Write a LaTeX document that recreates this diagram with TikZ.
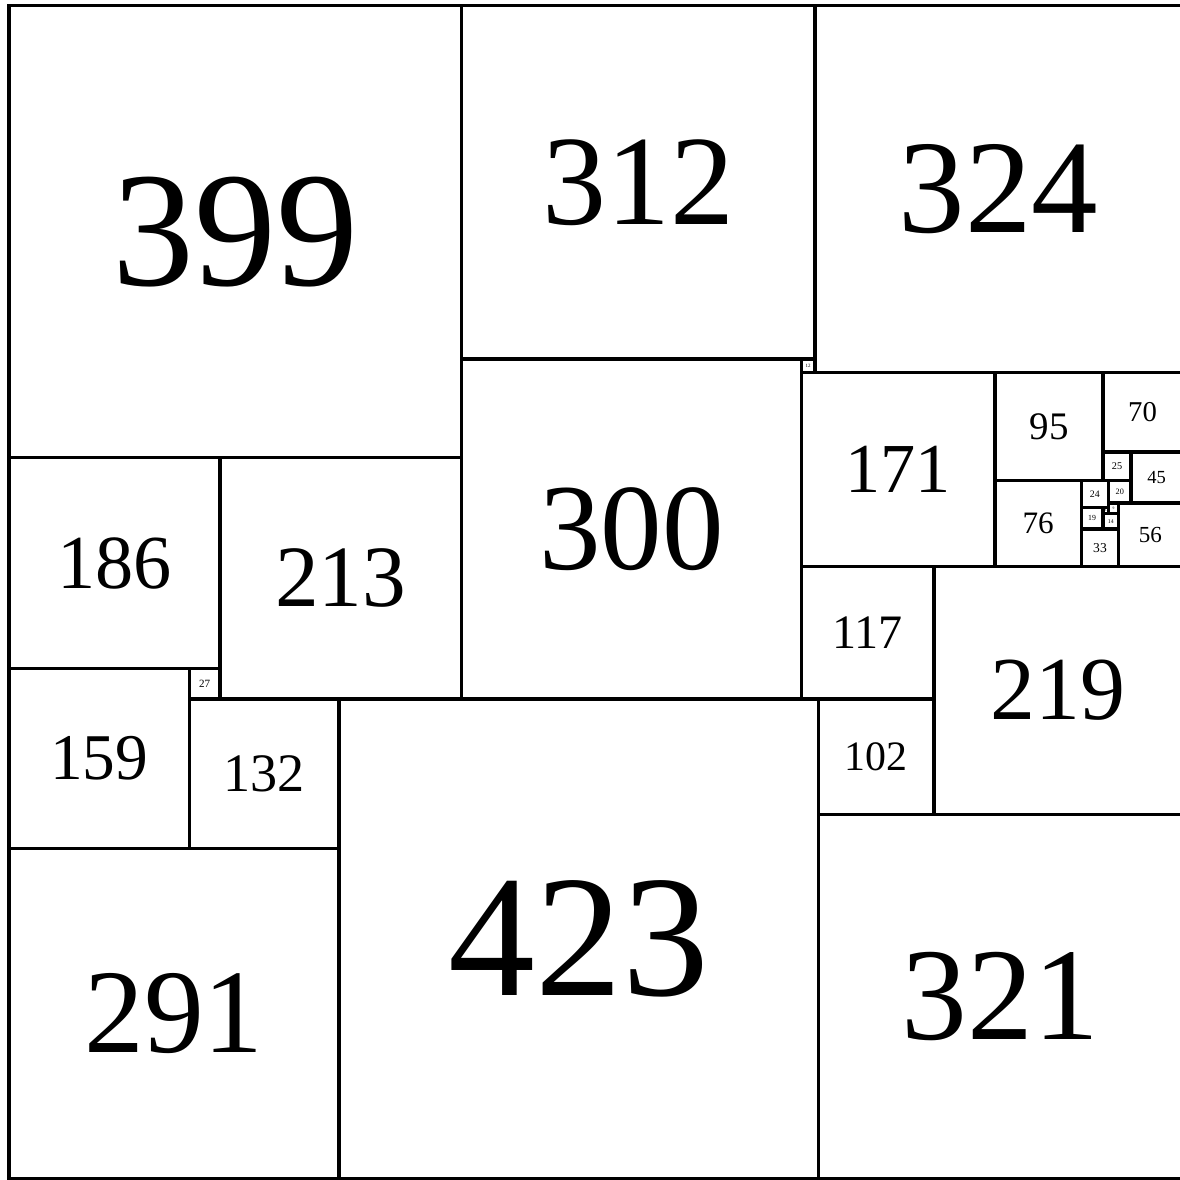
\documentclass[tikz,border=0pt]{standalone}
\usepackage{fontspec}
\setmainfont{Liberation Serif}

% font size follows the side of the square
\newcommand\sqfont[1]{\pgfmathsetmacro\sqfs{max(#1*0.103,0.8)}\fontsize{\sqfs}{\sqfs}\selectfont}

\begin{document}
\begin{tikzpicture}[
    x=0.01cm, y=-0.01cm,
    sq/.style={rectangle, draw, line width=0.85pt, inner sep=0pt, outer sep=0pt,
               anchor=north west, minimum size=#1*0.01cm, font=\sqfont{#1}}
]
\useasboundingbox (-8.1,-4.85) rectangle (1033.1,1036.35);

% top row
\node[sq=399] (s399) at (0,0) {399};
\node[sq=312] (s312) at (399,0) {312};
\node[sq=324] (s324) at (711,0) {324};

% middle
\node[sq=300] (s300) at (399,312) {300};
\node[sq=12] (s12) at (699,312) {12};
\node[sq=171] (s171) at (699,324) {171};
\node[sq=117] (s117) at (699,495) {117};
\node[sq=219] (s219) at (816,495) {219};
\node[sq=102] (s102) at (714,612) {102};

% small cluster on the right
\node[sq=95] (s95) at (870,324) {95};
\node[sq=70] (s70) at (965,324) {70};
\node[sq=25] (s25) at (965,394) {25};
\node[sq=45] (s45) at (990,394) {45};
\node[sq=76] (s76) at (870,419) {76};
\node[sq=24] (s24) at (946,419) {24};
\node[sq=20] (s20) at (970,419) {20};
\node[sq=19] (s19) at (946,443) {19};
\node[sq=5] (s5) at (965,443) {5};
\node[sq=9] (s9) at (970,439) {9};
\node[sq=14] (s14) at (965,448) {14};
\node[sq=56] (s56) at (979,439) {56};
\node[sq=33] (s33) at (946,462) {33};

% left side
\node[sq=186] (s186) at (0,399) {186};
\node[sq=213] (s213) at (186,399) {213};
\node[sq=27] (s27) at (159,585) {27};
\node[sq=159] (s159) at (0,585) {159};
\node[sq=132] (s132) at (159,612) {132};

% bottom row
\node[sq=291] (s291) at (0,744) {291};
\node[sq=423] (s423) at (291,612) {423};
\node[sq=321] (s321) at (714,714) {321};

\end{tikzpicture}
\end{document}
